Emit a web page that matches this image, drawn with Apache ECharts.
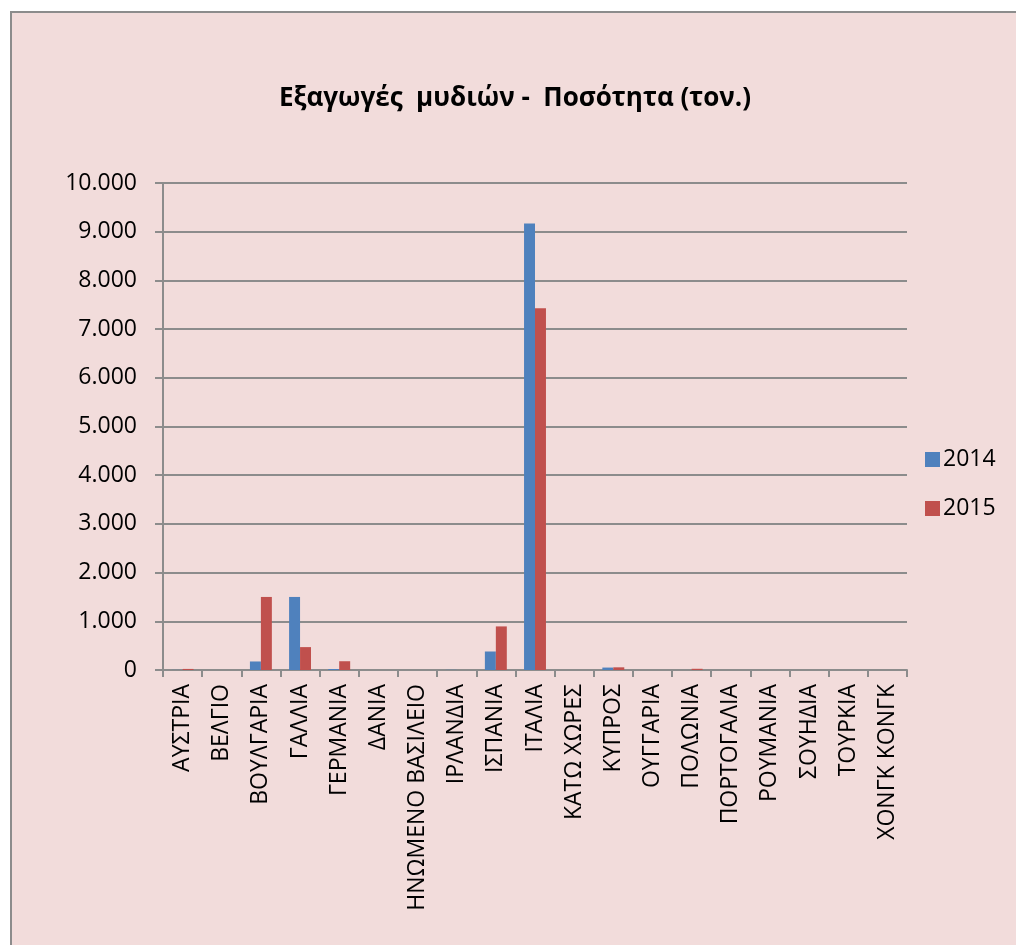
<!DOCTYPE html>
<html>
<head>
<meta charset="utf-8">
<script src="https://cdn.jsdelivr.net/npm/echarts@6/dist/echarts.min.js"></script>
<style>
  html, body { margin: 0; padding: 0; background: #ffffff; width: 1016px; height: 945px; overflow: hidden; }
  #chart {
    position: absolute; left: 10px; top: 11px;
    width: 1006px; height: 934px;
    background: #F2DCDB;
    border-left: 2px solid #8c8c8c; border-top: 2px solid #8c8c8c;
  }
</style>
</head>
<body>
<div id="chart"></div>
<script>
// Mussel exports by destination country, tonnes
const countries = ['ΑΥΣΤΡΙΑ', 'ΒΕΛΓΙΟ', 'ΒΟΥΛΓΑΡΙΑ', 'ΓΑΛΛΙΑ', 'ΓΕΡΜΑΝΙΑ', 'ΔΑΝΙΑ',
  'ΗΝΩΜΕΝΟ ΒΑΣΙΛΕΙΟ', 'ΙΡΛΑΝΔΙΑ', 'ΙΣΠΑΝΙΑ', 'ΙΤΑΛΙΑ', 'ΚΑΤΩ ΧΩΡΕΣ', 'ΚΥΠΡΟΣ',
  'ΟΥΓΓΑΡΙΑ', 'ΠΟΛΩΝΙΑ', 'ΠΟΡΤΟΓΑΛΙΑ', 'ΡΟΥΜΑΝΙΑ', 'ΣΟΥΗΔΙΑ', 'ΤΟΥΡΚΙΑ', 'ΧΟΝΓΚ ΚΟΝΓΚ'];
const exports2014 = [2, 0, 175, 1500, 20, 0, 0, 3, 380, 9170, 0, 50, 0, 0, 0, 0, 0, 0, 0];
const exports2015 = [22, 0, 1500, 470, 180, 0, 0, 0, 895, 7430, 0, 55, 0, 25, 0, 0, 0, 0, 0];
const seriesNames = ['2014', '2015'];
const yMax = 10000;
const yStep = 1000;

const chart = echarts.init(document.getElementById('chart'));
const gridGray = '#8c8c8c';
const font = '"Open Sans", "Noto Sans", sans-serif';

chart.setOption({
  animation: false,
  title: {
    text: 'Εξαγωγές  μυδιών -  Ποσότητα (τον.)',
    left: 'center',
    top: 68,
    textStyle: { fontFamily: font, fontWeight: 'bold', fontSize: 26, color: '#000' }
  },
  legend: {
    orient: 'vertical',
    left: 908,
    top: 430,
    itemWidth: 15,
    itemHeight: 15,
    itemGap: 26,
    icon: 'rect',
    textStyle: { fontFamily: font, fontSize: 23, color: '#000', padding: [0, 0, 0, -2] },
    data: seriesNames
  },
  grid: { left: 151, right: 111, top: 170, bottom: 277, containLabel: false },
  xAxis: {
    type: 'category',
    data: countries,
    axisLine: { lineStyle: { color: gridGray, width: 2 } },
    axisTick: { show: true, length: 7, lineStyle: { color: gridGray, width: 2 }, alignWithLabel: false },
    axisLabel: {
      rotate: 90, interval: 0, margin: 14,
      fontFamily: font, fontSize: 23, color: '#000'
    }
  },
  yAxis: {
    type: 'value',
    min: 0, max: yMax, interval: yStep,
    axisLine: { show: true, lineStyle: { color: gridGray, width: 2 } },
    axisTick: { show: true, length: 8, lineStyle: { color: gridGray, width: 2 } },
    splitLine: { lineStyle: { color: gridGray, width: 2 } },
    axisLabel: {
      margin: 26,
      fontFamily: font, fontSize: 23, color: '#000',
      formatter: v => v === 0 ? '0' : v.toLocaleString('de-DE')
    }
  },
  series: [
    { name: seriesNames[0], type: 'bar', data: exports2014, barGap: '0%', barCategoryGap: '44%',
      itemStyle: { color: '#4F81BD' } },
    { name: seriesNames[1], type: 'bar', data: exports2015, barGap: '0%', barCategoryGap: '44%',
      itemStyle: { color: '#C0504D' } }
  ]
});
</script>
</body>
</html>
